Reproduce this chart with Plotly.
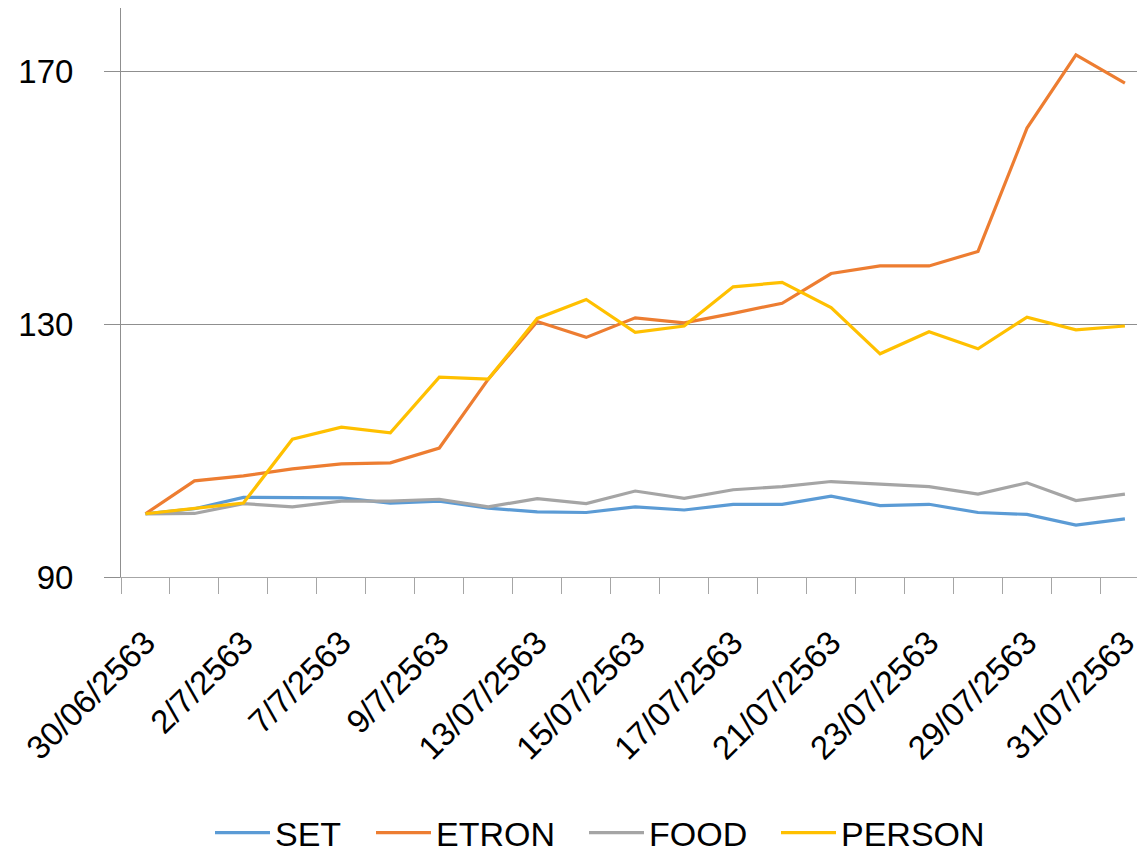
import plotly.graph_objects as go

# ---- data ----
dates = ["30/06/2563", "1/7/2563", "2/7/2563", "3/7/2563", "7/7/2563", "8/7/2563",
         "9/7/2563", "10/7/2563", "13/07/2563", "14/07/2563", "15/07/2563",
         "16/07/2563", "17/07/2563", "20/07/2563", "21/07/2563", "22/07/2563",
         "23/07/2563", "24/07/2563", "29/07/2563", "30/07/2563", "31/07/2563"]

set_vals = [100, 100.8, 102.6, 102.5, 102.5, 101.7, 102.0, 100.9, 100.3, 100.2, 101.1,
            100.6, 101.5, 101.5, 102.8, 101.3, 101.5, 100.2, 99.9, 98.2, 99.2]
etron_vals = [100, 105.2, 106.0, 107.1, 107.9, 108.05, 110.4, 121.3, 130.4, 127.9, 131.0,
              130.2, 131.7, 133.3, 138.0, 139.2, 139.2, 141.5, 161.0, 172.6, 168.1]
food_vals = [100, 100.05, 101.6, 101.1, 102.0, 102.0, 102.3, 101.1, 102.4, 101.6, 103.6,
             102.45, 103.8, 104.3, 105.1, 104.7, 104.3, 103.1, 104.9, 102.1, 103.1]
person_vals = [100, 100.8, 101.7, 111.8, 113.7, 112.8, 121.6, 121.3, 130.9, 133.9, 128.7,
               129.7, 135.9, 136.6, 132.6, 125.3, 128.8, 126.1, 131.1, 129.1, 129.7]

series_names = ["SET", "ETRON", "FOOD", "PERSON"]
y_ticks = [90, 130, 170]

# ---- style ----
colors = ["#5B9BD5", "#ED7D31", "#A5A5A5", "#FFC000"]
legend_ids = ["legend", "legend2", "legend3", "legend4"]
legend_px = [202, 363, 576, 768]
# page body has an 8px margin, so the figure is sized to fit inside it
W, H = 1137, 844
FONT = "Liberation Sans, Arial, sans-serif"

x_idx = list(range(len(dates)))
all_vals = [set_vals, etron_vals, food_vals, person_vals]

fig = go.Figure()
for name, vals, col, lg in zip(series_names, all_vals, colors, legend_ids):
    fig.add_trace(go.Scatter(
        x=x_idx, y=vals, name=name, mode="lines",
        line=dict(color=col, width=3.2),
        legend=lg, hoverinfo="skip",
    ))

legend_common = dict(
    orientation="h", xref="container", yref="container",
    yanchor="middle", xanchor="left", y=1 - 825 / H,
    font=dict(family=FONT, size=34, color="#000000"),
    bgcolor="rgba(0,0,0,0)", borderwidth=0, itemwidth=55,
)
legends = {}
for lg, px in zip(legend_ids, legend_px):
    legends[lg] = dict(legend_common, x=px / W)

fig.update_layout(
    width=W, height=H,
    margin=dict(l=113, r=0, t=0, b=275, autoexpand=False),
    paper_bgcolor="white", plot_bgcolor="white",
    font=dict(family=FONT, size=33, color="#000000"),
    showlegend=True,
    **legends,
)

fig.update_xaxes(
    range=[-0.5, 20.41], automargin=False,
    tickmode="array", tickvals=x_idx[::2], ticktext=dates[::2],
    tickangle=-45, ticks="",
    ticklabelstandoff=32,
    tickfont=dict(family=FONT, size=33, color="#000000"),
    showline=True, linecolor="#A6A6A6", linewidth=1,
    showgrid=False, zeroline=False,
    minor=dict(ticks="outside", ticklen=16, tickcolor="#A6A6A6", tickwidth=1,
               tick0=0.5, dtick=1, showgrid=False),
)
fig.update_yaxes(
    range=[90, 180], automargin=False,
    tickmode="array", tickvals=y_ticks,
    ticks="outside", ticklen=16, tickcolor="#8F8F8F", tickwidth=1,
    ticklabelstandoff=24,
    tickfont=dict(family=FONT, size=33, color="#000000"),
    showline=True, linecolor="#8F8F8F", linewidth=1,
    showgrid=True, gridcolor="#8F8F8F", gridwidth=1,
    zeroline=False,
)

fig.write_html("out.html")
